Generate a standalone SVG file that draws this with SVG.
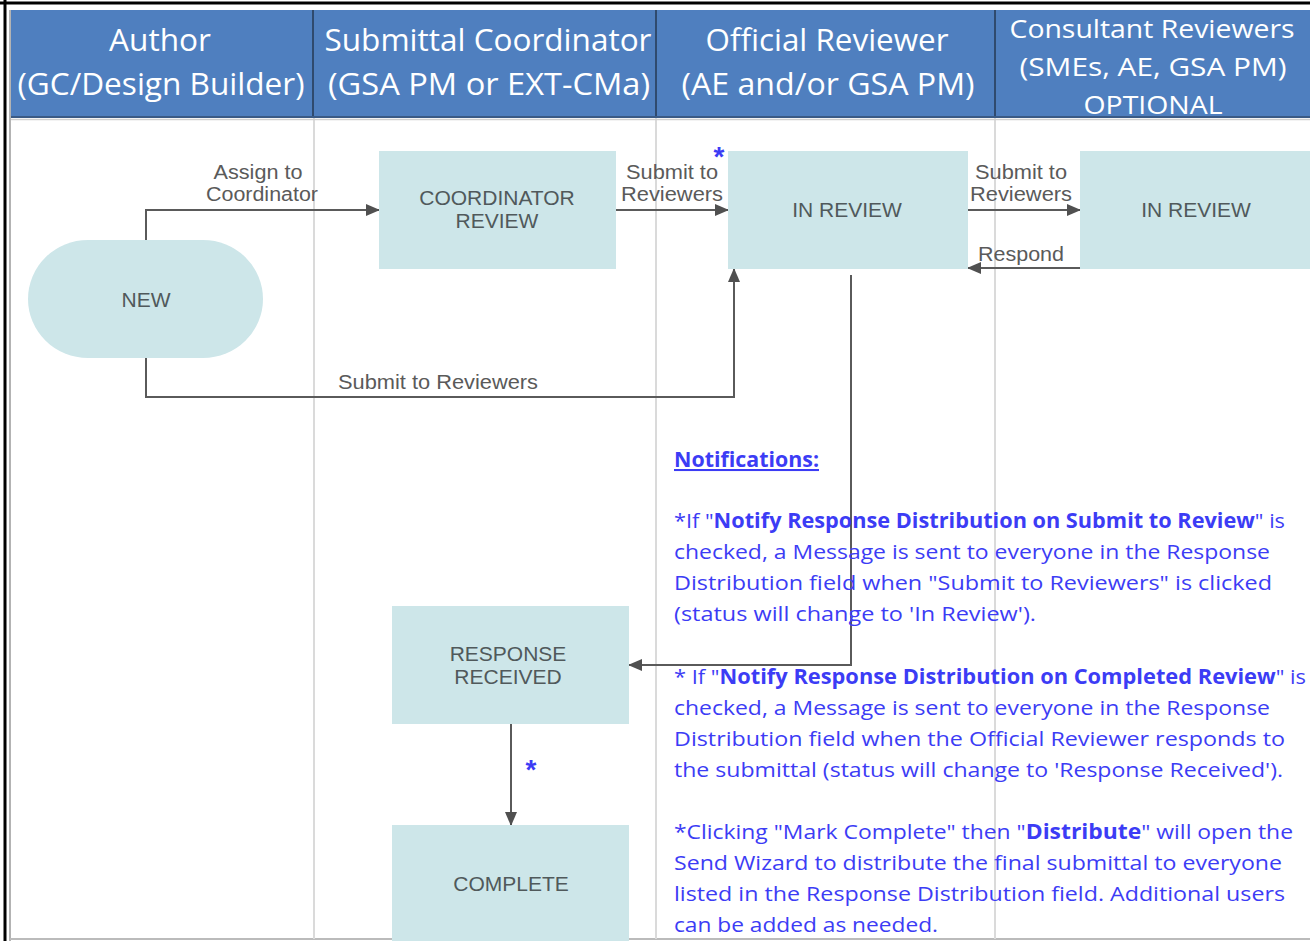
<svg xmlns="http://www.w3.org/2000/svg" width="1310" height="941" viewBox="0 0 1310 941">
<style>
.hd{font-family:"Open Sans","Noto Sans",sans-serif;fill:#ffffff;font-size:31px;text-anchor:middle}
.hs{font-size:25px}
.nd{fill:#cde6e9}
.nt{font-family:"Liberation Sans",Arial,sans-serif;font-size:21px;fill:#50595b;text-anchor:middle}
.lb{font-family:"Liberation Sans",Arial,sans-serif;font-size:20px;fill:#5a5a5a;text-anchor:middle}
.cn{fill:none;stroke:#5a5a5a;stroke-width:2}
.lane{stroke:#dadada;stroke-width:2}
.note{font-family:"Open Sans","Noto Sans",sans-serif;font-size:20.5px;fill:#3c3cf5}
.b{font-weight:bold}
.ast{font-family:"Liberation Sans",Arial,sans-serif;font-size:28px;font-weight:bold;fill:#3c3cf5;text-anchor:middle}
</style>
<defs>
<marker id="ah" markerUnits="userSpaceOnUse" markerWidth="14" markerHeight="12" refX="13" refY="6" orient="auto">
<path d="M0,0 L14,6 L0,12 z" fill="#505050"/>
</marker>
</defs>
<rect x="0" y="0" width="1310" height="941" fill="#ffffff"/>
<g id="frame">
<line x1="0" y1="3" x2="1310" y2="3" stroke="#000" stroke-width="3"/>
<line x1="5" y1="0" x2="5" y2="941" stroke="#000" stroke-width="3"/>
<line x1="10" y1="10" x2="10" y2="941" stroke="#9a9a9a" stroke-width="1.5"/>
<line x1="10" y1="939" x2="1310" y2="939" stroke="#bbbbbb" stroke-width="2"/>
</g>
<g id="lanes">
<line class="lane" x1="314" y1="117" x2="314" y2="939"/>
<line class="lane" x1="656" y1="117" x2="656" y2="939"/>
<line class="lane" x1="995" y1="117" x2="995" y2="939"/>
</g>
<g id="header">
<rect x="11" y="10" width="1299" height="107" fill="#4f7fbf"/>
<line x1="313" y1="10" x2="313" y2="117" stroke="#2f4a6e" stroke-width="2"/>
<line x1="656" y1="10" x2="656" y2="117" stroke="#2f4a6e" stroke-width="2"/>
<line x1="995" y1="10" x2="995" y2="117" stroke="#2f4a6e" stroke-width="2"/>
<text class="hd" x="160" y="51" textLength="102" lengthAdjust="spacingAndGlyphs">Author</text>
<text class="hd" x="161" y="95" textLength="287" lengthAdjust="spacingAndGlyphs">(GC/Design Builder)</text>
<text class="hd" x="488" y="51" textLength="327" lengthAdjust="spacingAndGlyphs">Submittal Coordinator</text>
<text class="hd" x="489" y="95" textLength="322" lengthAdjust="spacingAndGlyphs">(GSA PM or EXT-CMa)</text>
<text class="hd" x="827" y="51" textLength="243" lengthAdjust="spacingAndGlyphs">Official Reviewer</text>
<text class="hd" x="828" y="95" textLength="293" lengthAdjust="spacingAndGlyphs">(AE and/or GSA PM)</text>
<text class="hd hs" x="1152" y="38" textLength="285" lengthAdjust="spacingAndGlyphs">Consultant Reviewers</text>
<text class="hd hs" x="1153" y="76" textLength="267" lengthAdjust="spacingAndGlyphs">(SMEs, AE, GSA PM)</text>
<text class="hd hs" x="1153" y="114" textLength="139" lengthAdjust="spacingAndGlyphs">OPTIONAL</text>
<line x1="11" y1="117" x2="1310" y2="117" stroke="#3a5a85" stroke-width="2"/>
<line x1="11" y1="119.5" x2="1310" y2="119.5" stroke="#cfcfcf" stroke-width="1.5"/>
</g>
<g id="connectors">
<path class="cn" d="M146 240 V210 H379" marker-end="url(#ah)"/>
<path class="cn" d="M616 210 H728" marker-end="url(#ah)"/>
<path class="cn" d="M146 358 V397 H734 V269" marker-end="url(#ah)"/>
<path class="cn" d="M968 210 H1080" marker-end="url(#ah)"/>
<path class="cn" d="M1080 268 H968" marker-end="url(#ah)"/>
<path class="cn" d="M851 275 V665 H629" marker-end="url(#ah)"/>
<path class="cn" d="M511 724 V825" marker-end="url(#ah)"/>
<text class="lb" x="258" y="179" textLength="89" lengthAdjust="spacingAndGlyphs">Assign to</text>
<text class="lb" x="262" y="201" textLength="112" lengthAdjust="spacingAndGlyphs">Coordinator</text>
<text class="lb" x="672" y="179" textLength="92" lengthAdjust="spacingAndGlyphs">Submit to</text>
<text class="lb" x="672" y="201" textLength="102" lengthAdjust="spacingAndGlyphs">Reviewers</text>
<text class="lb" x="1021" y="179" textLength="92" lengthAdjust="spacingAndGlyphs">Submit to</text>
<text class="lb" x="1021" y="201" textLength="102" lengthAdjust="spacingAndGlyphs">Reviewers</text>
<text class="lb" x="1021" y="261" textLength="86" lengthAdjust="spacingAndGlyphs">Respond</text>
<text class="lb" x="438" y="389" textLength="200" lengthAdjust="spacingAndGlyphs">Submit to Reviewers</text>
<text class="ast" x="719" y="166">*</text>
<text class="ast" x="531" y="779">*</text>
</g>
<g id="node-new">
<rect class="nd" x="28" y="240" width="235" height="118" rx="60" ry="59"/>
<text class="nt" x="146" y="307">NEW</text>
</g>
<g id="node-coordinator-review">
<rect class="nd" x="379" y="151" width="237" height="118"/>
<text class="nt" x="497" y="205">COORDINATOR</text>
<text class="nt" x="497" y="228">REVIEW</text>
</g>
<g id="node-in-review-official">
<rect class="nd" x="728" y="151" width="240" height="118"/>
<text class="nt" x="847" y="217">IN REVIEW</text>
</g>
<g id="node-in-review-consultant">
<rect class="nd" x="1080" y="151" width="230" height="118"/>
<text class="nt" x="1196" y="217">IN REVIEW</text>
</g>
<g id="node-response-received">
<rect class="nd" x="392" y="606" width="237" height="118"/>
<text class="nt" x="508" y="661">RESPONSE</text>
<text class="nt" x="508" y="684">RECEIVED</text>
</g>
<g id="node-complete">
<rect class="nd" x="392" y="825" width="237" height="116"/>
<text class="nt" x="511" y="891">COMPLETE</text>
</g>
<g id="notes">
<text class="note b" x="674" y="467" text-decoration="underline" textLength="145" lengthAdjust="spacingAndGlyphs">Notifications:</text>
<text class="note" x="674" y="528" textLength="611" lengthAdjust="spacingAndGlyphs">*If "<tspan class="b">Notify Response Distribution on Submit to Review</tspan>" is</text>
<text class="note" x="674" y="559" textLength="596" lengthAdjust="spacingAndGlyphs">checked, a Message is sent to everyone in the Response</text>
<text class="note" x="674" y="590" textLength="598" lengthAdjust="spacingAndGlyphs">Distribution field when "Submit to Reviewers" is clicked</text>
<text class="note" x="674" y="621" textLength="362" lengthAdjust="spacingAndGlyphs">(status will change to 'In Review').</text>
<text class="note" x="674" y="684" textLength="632" lengthAdjust="spacingAndGlyphs">* If "<tspan class="b">Notify Response Distribution on Completed Review</tspan>" is</text>
<text class="note" x="674" y="715" textLength="596" lengthAdjust="spacingAndGlyphs">checked, a Message is sent to everyone in the Response</text>
<text class="note" x="674" y="746" textLength="611" lengthAdjust="spacingAndGlyphs">Distribution field when the Official Reviewer responds to</text>
<text class="note" x="674" y="777" textLength="609" lengthAdjust="spacingAndGlyphs">the submittal (status will change to 'Response Received').</text>
<text class="note" x="674" y="839" textLength="619" lengthAdjust="spacingAndGlyphs">*Clicking "Mark Complete" then "<tspan class="b">Distribute</tspan>" will open the</text>
<text class="note" x="674" y="870" textLength="608" lengthAdjust="spacingAndGlyphs">Send Wizard to distribute the final submittal to everyone</text>
<text class="note" x="674" y="901" textLength="611" lengthAdjust="spacingAndGlyphs">listed in the Response Distribution field. Additional users</text>
<text class="note" x="674" y="932" textLength="264" lengthAdjust="spacingAndGlyphs">can be added as needed.</text>
</g>
</svg>
